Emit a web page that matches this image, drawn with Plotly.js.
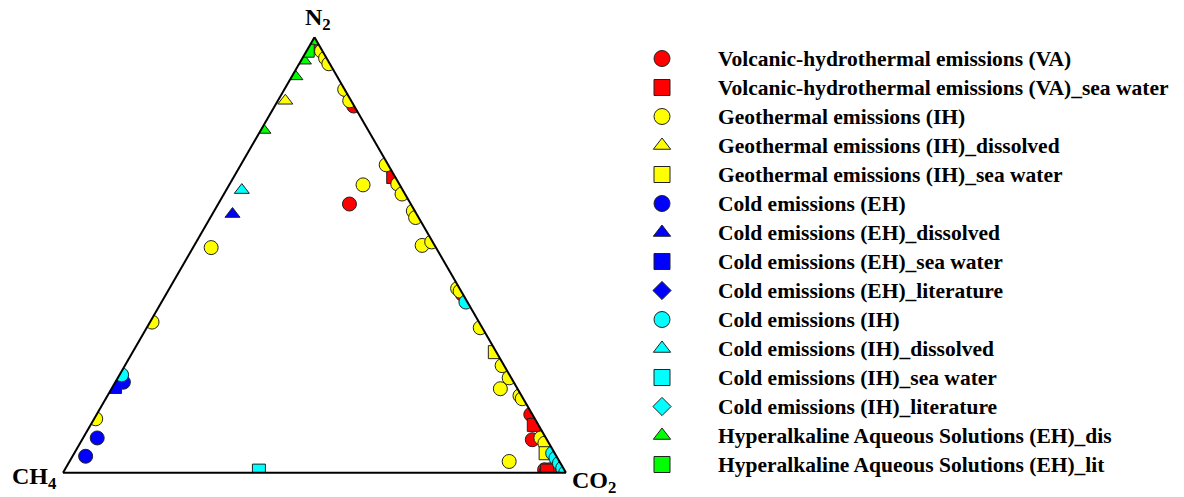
<!DOCTYPE html>
<html>
<head>
<meta charset="utf-8">
<script src="https://cdn.plot.ly/plotly-3.0.1.min.js"></script>
<style>html,body{margin:0;padding:0;background:#fff;}#chart{width:1184px;height:497px;}</style>
</head>
<body>
<div id="chart"></div>
<script>
// Ternary data: a = N2, b = CH4, c = CO2 (fractions)
const seriesNames = [
  "Volcanic-hydrothermal emissions (VA)",
  "Volcanic-hydrothermal emissions (VA)_sea water",
  "Geothermal emissions (IH)",
  "Geothermal emissions (IH)_dissolved",
  "Geothermal emissions (IH)_sea water",
  "Cold emissions (EH)",
  "Cold emissions (EH)_dissolved",
  "Cold emissions (EH)_sea water",
  "Cold emissions (EH)_literature",
  "Cold emissions (IH)",
  "Cold emissions (IH)_dissolved",
  "Cold emissions (IH)_sea water",
  "Cold emissions (IH)_literature",
  "Hyperalkaline Aqueous Solutions (EH)_dis",
  "Hyperalkaline Aqueous Solutions (EH)_lit"
];
const axisLabels = {a: "N<sub>2</sub>", b: "CH<sub>4</sub>", c: "CO<sub>2</sub>"};

const vaN2  = [0.987, 0.842, 0.617, 0.410, 0.134, 0.076, 0.007, 0.000, 0.007, 0.018];
const vaCH4 = [0.008, 0.001, 0.122, 0.001, 0.003, 0.029, 0.039, 0.040, 0.029, 0.000];
const vaCO2 = [0.005, 0.157, 0.261, 0.589, 0.863, 0.895, 0.954, 0.960, 0.964, 0.982];

const vaSwN2  = [0.679, 0.110, 0.005];
const vaSwCH4 = [0.004, 0.009, 0.035];
const vaSwCO2 = [0.317, 0.881, 0.960];

const ihN2  = [0.968, 0.952, 0.939, 0.880, 0.854, 0.707, 0.661, 0.663, 0.640, 0.601, 0.586, 0.522, 0.530, 0.423, 0.417, 0.333, 0.246, 0.218, 0.193, 0.177, 0.170, 0.080, 0.068, 0.026, 0.346, 0.124, 0.517];
const ihCH4 = [0.002, 0.002, 0.002, 0.000, 0.003, 0.004, 0.073, 0.003, 0.006, 0.003, 0.006, 0.025, 0.002, 0.004, 0.002, 0.004, 0.004, 0.004, 0.034, 0.003, 0.002, 0.010, 0.008, 0.100, 0.650, 0.873, 0.447];
const ihCO2 = [0.030, 0.046, 0.059, 0.120, 0.143, 0.289, 0.266, 0.334, 0.354, 0.396, 0.408, 0.453, 0.468, 0.573, 0.581, 0.663, 0.750, 0.778, 0.773, 0.820, 0.828, 0.910, 0.924, 0.874, 0.004, 0.003, 0.036];

const ihDisN2 = [0.854], ihDisCH4 = [0.131], ihDisCO2 = [0.015];

const ihSwN2  = [0.277, 0.045];
const ihSwCH4 = [0.003, 0.018];
const ihSwCO2 = [0.720, 0.937];

const ehN2  = [0.080, 0.038, 0.208];
const ehCH4 = [0.892, 0.936, 0.776];
const ehCO2 = [0.028, 0.026, 0.016];

const ehDisN2 = [0.594], ehDisCH4 = [0.366], ehDisCO2 = [0.040];
const ehSwN2 = [0.197], ehSwCH4 = [0.798], ehSwCO2 = [0.005];
const ehLitN2 = [], ehLitCH4 = [], ehLitCO2 = [];

const cihN2  = [0.392, 0.225, 0.045, 0.034, 0.022, 0.011, 0.001];
const cihCH4 = [0.003, 0.771, 0.004, 0.003, 0.002, 0.001, 0.000];
const cihCO2 = [0.605, 0.004, 0.951, 0.963, 0.976, 0.988, 0.999];

const cihDisN2 = [0.649], cihDisCH4 = [0.320], cihDisCO2 = [0.031];
const cihSwN2 = [0.005], cihSwCH4 = [0.608], cihSwCO2 = [0.387];
const cihLitN2 = [], cihLitCH4 = [], cihLitCO2 = [];

const haDisN2  = [0.990, 0.946, 0.910, 0.787];
const haDisCH4 = [0.010, 0.048, 0.083, 0.208];
const haDisCO2 = [0.000, 0.006, 0.007, 0.005];

const haLitN2 = [0.969], haLitCH4 = [0.029], haLitCO2 = [0.002];

const seriesData = [
  [vaN2, vaCH4, vaCO2],
  [vaSwN2, vaSwCH4, vaSwCO2],
  [ihN2, ihCH4, ihCO2],
  [ihDisN2, ihDisCH4, ihDisCO2],
  [ihSwN2, ihSwCH4, ihSwCO2],
  [ehN2, ehCH4, ehCO2],
  [ehDisN2, ehDisCH4, ehDisCO2],
  [ehSwN2, ehSwCH4, ehSwCO2],
  [ehLitN2, ehLitCH4, ehLitCO2],
  [cihN2, cihCH4, cihCO2],
  [cihDisN2, cihDisCH4, cihDisCO2],
  [cihSwN2, cihSwCH4, cihSwCO2],
  [cihLitN2, cihLitCH4, cihLitCO2],
  [haDisN2, haDisCH4, haDisCO2],
  [haLitN2, haLitCH4, haLitCO2]
];
const seriesColors = ["#FF0000","#FF0000","#FFFF00","#FFFF00","#FFFF00","#0000FF","#0000FF","#0000FF","#0000FF","#00FFFF","#00FFFF","#00FFFF","#00FFFF","#00FF00","#00FF00"];
const seriesSymbols = ["circle","square","circle","triangle-up","square","circle","triangle-up","square","diamond","circle","triangle-up","square","diamond","triangle-up","square"];

const plotSize = {"circle": 14, "square": 13, "triangle-up": 13, "diamond": 12};
const legendSize = {"circle": 16, "square": 16, "triangle-up": 15, "diamond": 14};

// data traces (markers on the ternary plot)
const dataTraces = seriesNames.map((name, i) => ({
  type: "scatterternary",
  mode: "markers",
  name: name,
  legendgroup: "g" + i,
  showlegend: false,
  a: seriesData[i][0],
  b: seriesData[i][1],
  c: seriesData[i][2],
  marker: {
    symbol: seriesSymbols[i],
    color: seriesColors[i],
    size: plotSize[seriesSymbols[i]],
    line: {color: "#222", width: 1}
  },
  hovertemplate: "N2 %{a}<br>CH4 %{b}<br>CO2 %{c}<extra>" + name + "</extra>"
}));

// legend entries (same groups, larger legend symbols)
const legendTraces = seriesNames.map((name, i) => ({
  type: "scatterternary",
  mode: "markers",
  name: '<span style="font-size:21.5px">' + name + '</span>',
  legendgroup: "g" + i,
  showlegend: true,
  a: [null], b: [null], c: [null],
  marker: {
    symbol: seriesSymbols[i],
    color: seriesColors[i],
    size: legendSize[seriesSymbols[i]],
    line: {color: "#222", width: 1}
  },
  hoverinfo: "skip"
}));

const W = 1184, H = 497;
const labelFont = {family: "Liberation Serif, Times New Roman, serif", size: 24, color: "#000", weight: "bold"};
const axisCommon = {
  showgrid: false, showticklabels: false, ticks: "", showline: true,
  linecolor: "#000", linewidth: 2, title: {text: ""}
};

const layout = {
  width: W, height: H,
  margin: {l: 0, r: 0, t: 0, b: 0},
  paper_bgcolor: "#fff",
  showlegend: true,
  ternary: {
    sum: 1,
    bgcolor: "#fff",
    domain: {x: [63 / W, 566 / W], y: [1 - 473 / H, 1 - 37 / H]},
    aaxis: Object.assign({}, axisCommon),
    baxis: Object.assign({}, axisCommon),
    caxis: Object.assign({}, axisCommon)
  },
  annotations: [
    {text: axisLabels.a, xref: "paper", yref: "paper", x: 318 / W, y: 1 - 19 / H, xanchor: "center", yanchor: "middle", showarrow: false, font: labelFont},
    {text: axisLabels.b, xref: "paper", yref: "paper", x: 34 / W, y: 1 - 478 / H, xanchor: "center", yanchor: "middle", showarrow: false, font: labelFont},
    {text: axisLabels.c, xref: "paper", yref: "paper", x: 594 / W, y: 1 - 482 / H, xanchor: "center", yanchor: "middle", showarrow: false, font: labelFont}
  ],
  legend: {
    x: 606 / W, xanchor: "left",
    y: 1 - 39 / H, yanchor: "top",
    itemwidth: 102,
    traceorder: "grouped",
    tracegroupgap: 0,
    bgcolor: "rgba(0,0,0,0)",
    font: {family: "Liberation Serif, Times New Roman, serif", size: 20, color: "#000", weight: "bold"}
  }
};

Plotly.newPlot("chart", dataTraces.concat(legendTraces), layout, {displayModeBar: false, responsive: false});
</script>
</body>
</html>
